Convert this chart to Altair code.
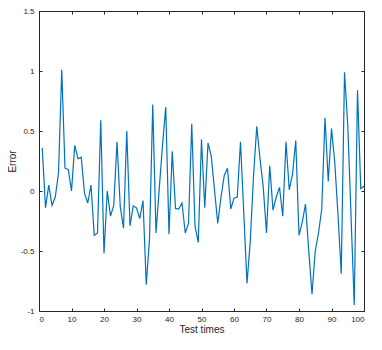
import altair as alt
import pandas as pd

test_times = list(range(1, 101))
errors = [
    0.36, -0.14, 0.05, -0.12, -0.05, 0.15, 1.01, 0.19, 0.18, 0.00,
    0.38, 0.27, 0.28, -0.02, -0.10, 0.05, -0.37, -0.35, 0.59, -0.52,
    0.00, -0.21, -0.12, 0.41, -0.13, -0.31, 0.50, -0.29, -0.125, -0.14,
    -0.23, -0.08, -0.78, -0.40, 0.72, -0.35, 0.02, 0.38, 0.70, -0.36,
    0.33, -0.145, -0.15, -0.10, -0.35, -0.27, 0.56, -0.29, -0.43, 0.43,
    -0.14, 0.40, 0.29, 0.01, -0.27, -0.05, 0.13, 0.19, -0.15, -0.06,
    -0.05, 0.41, -0.18, -0.77, -0.42, 0.12, 0.54, 0.27, 0.03, -0.35,
    0.21, -0.16, -0.05, 0.03, -0.21, 0.41, 0.01, 0.14, 0.42, -0.37,
    -0.26, -0.11, -0.50, -0.86, -0.50, -0.35, -0.15, 0.61, 0.08, 0.52,
    0.24, -0.20, -0.69, 0.99, 0.55, -0.20, -0.95, 0.84, 0.02, 0.04,
]
x_ticks = [0, 10, 20, 30, 40, 50, 60, 70, 80, 90, 100]
y_ticks = [-1, -0.5, 0, 0.5, 1, 1.5]

df = pd.DataFrame({"t": test_times, "err": errors})

FONT = "Liberation Sans"
AX = "#262626"

xscale = alt.Scale(domain=[0, 100], nice=False, zero=False)
yscale = alt.Scale(domain=[-1, 1.5], nice=False, zero=False)

common_axis = dict(
    domain=False, grid=False, tickColor=AX, tickSize=3, offset=-3,
    labelFont=FONT, labelFontSize=8, labelColor=AX,
    titleFont=FONT, titleFontSize=10, titleColor=AX, titleFontWeight="normal",
)

main = alt.Chart(df).mark_line(color="#0072BD", strokeWidth=1.2).encode(
    x=alt.X("t:Q", scale=xscale,
            axis=alt.Axis(values=x_ticks, title="Test times", orient="bottom",
                          labelPadding=4, titlePadding=1,
                          labelExpr="'' + datum.value", **common_axis)),
    y=alt.Y("err:Q", scale=yscale,
            axis=alt.Axis(values=y_ticks, title="Error", orient="left",
                          labelPadding=5, titlePadding=3,
                          labelExpr="'' + datum.value", **common_axis)),
)

frame_axis = dict(
    domain=False, grid=False, tickColor=AX, tickSize=3, offset=-3,
    labels=False, title=None,
)

frame = alt.Chart(df).mark_line(opacity=0).encode(
    x=alt.X("t:Q", scale=xscale,
            axis=alt.Axis(values=x_ticks, orient="top", **frame_axis)),
    y=alt.Y("err:Q", scale=yscale,
            axis=alt.Axis(values=y_ticks, orient="right", **frame_axis)),
)

chart = alt.layer(main, frame).resolve_axis(
    x="independent", y="independent"
).properties(
    width=325, height=300,
    autosize=alt.AutoSizeParams(type="none"),
    padding={"left": 31, "top": 3, "right": 10, "bottom": 30},
    background="white",
).configure_view(stroke=AX, strokeWidth=1)

chart.save("out.html", embed_options={"renderer": "svg", "actions": False})
